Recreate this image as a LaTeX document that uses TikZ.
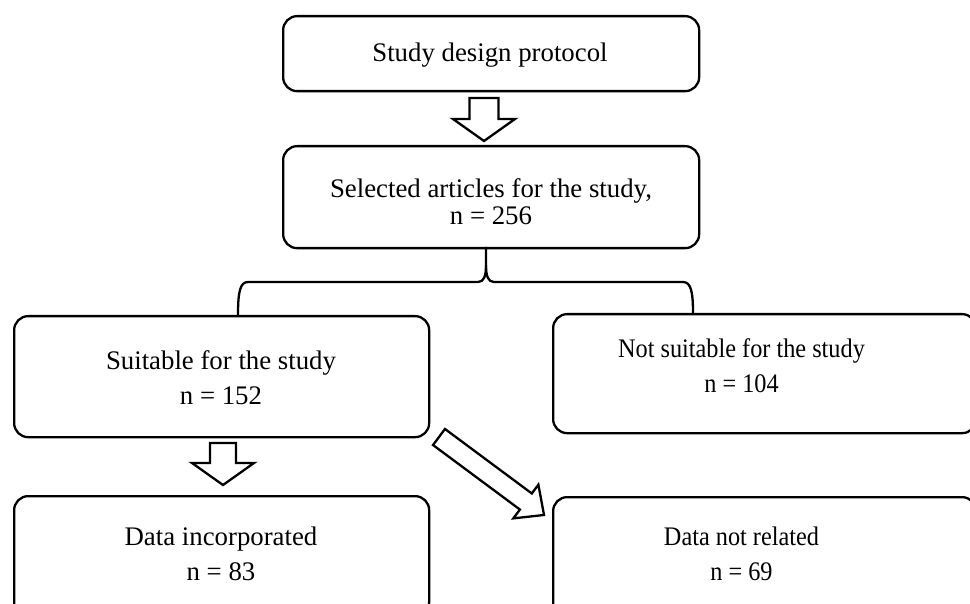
\documentclass[tikz,border=0pt]{standalone}
\usepackage{fontspec}
\setmainfont{Liberation Serif}
\newfontfamily\condserif[FakeStretch=0.906]{Liberation Serif}
\begin{document}
\begin{tikzpicture}[x=1pt,y=-1pt,
  box/.style={draw,line width=2.3pt,rounded corners=14pt,anchor=north west,inner sep=0pt},
  txt/.style={align=center,inner sep=0pt,font=\fontsize{26.8}{35}\selectfont},
  ctxt/.style={align=center,inner sep=0pt,font=\condserif\fontsize{26.8}{35}\selectfont},
  arr/.style={draw,line width=2.3pt,fill=white,line join=miter},
  link/.style={draw,line width=2.3pt}]
\useasboundingbox (0,0) rectangle (970,604);
\clip (0,0) rectangle (970,604);
\node[box,minimum width=416pt,minimum height=75pt] (b1) at (282,15) {};
\node[box,minimum width=416pt,minimum height=102pt] (b2) at (282,145) {};
\node[box,minimum width=415pt,minimum height=121pt] (b3) at (13,315) {};
\node[box,minimum width=423pt,minimum height=119pt] (b4) at (552,313) {};
\node[box,minimum width=415pt,minimum height=120pt] (b5) at (13,495) {};
\node[box,minimum width=423pt,minimum height=120pt] (b6) at (552,496) {};
\node[txt] (t1) at (490,55.5) {Study design protocol};
\node[txt,font=\fontsize{26.8}{27.5}\selectfont] (t2) at (491,201.5) {Selected articles for the study,\\ n = 256};
\node[txt] (t3) at (221,377.5) {Suitable for the study\\ n = 152};
\node[ctxt] (t4) at (741.5,365.5) {Not suitable for the study\\ n = 104};
\node[txt] (t5) at (221,553.5) {Data incorporated\\ n = 83};
\node[ctxt] (t6) at (741.5,553.5) {Data not related\\ n = 69};
% block arrows
\coordinate (a1) at (484,98);
\begin{scope}[shift={(a1)},rotate=-90]
  \path[arr] (0,-14.5) -- (21,-14.5) -- (21,-31) -- (43,0) -- (21,31) -- (21,14.5) -- (0,14.5) -- cycle;
\end{scope}
\coordinate (a2) at (223,443);
\begin{scope}[shift={(a2)},rotate=-90]
  \path[arr] (0,-13) -- (20,-13) -- (20,-31) -- (42,0) -- (20,31) -- (20,13) -- (0,13) -- cycle;
\end{scope}
\coordinate (a3) at (439,437);
\begin{scope}[shift={(a3)},rotate=-36.6]
  \path[arr] (0,-10) -- (108.2,-10) -- (108.2,-21) -- (130.8,0) -- (108.2,21) -- (108.2,10) -- (0,10) -- cycle;
\end{scope}
% brace
\coordinate (tip) at (486,247);
\coordinate (lb) at (238,315);
\coordinate (rb) at (693,313);
\path[link] (lb) .. controls (238,292) and (240,282) .. (248,282)
  -- (478,282) .. controls (484,282) and (486,276) .. (486,265) -- (tip);
\path[link] (486,265) .. controls (486,276) and (488,282) .. (494,282)
  -- (683,282) .. controls (691,282) and (693,292) .. (rb);
\end{tikzpicture}
\end{document}
